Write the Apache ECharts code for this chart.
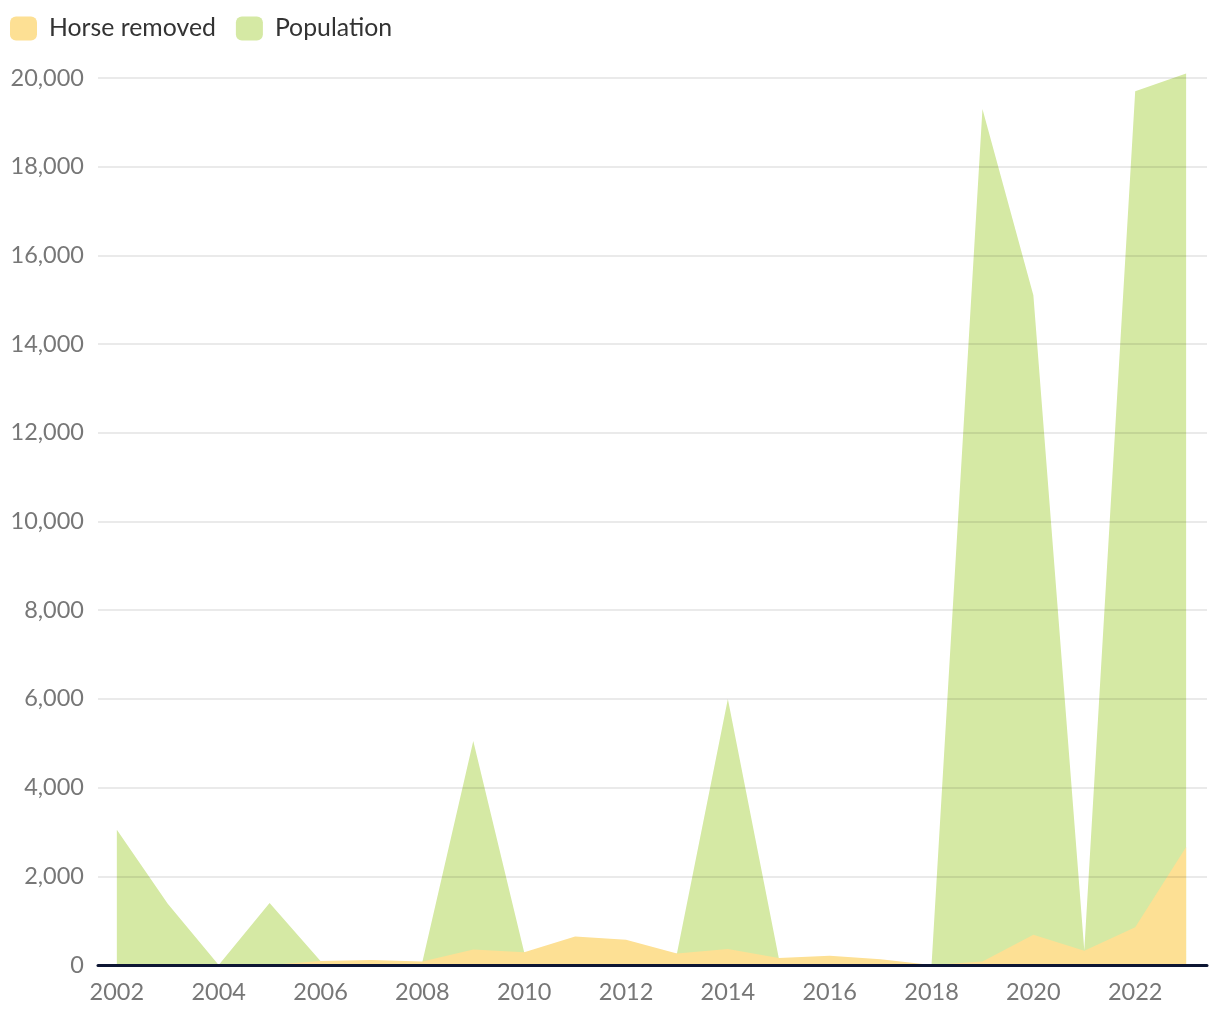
<!DOCTYPE html>
<html>
<head>
<meta charset="utf-8">
<script src="https://cdn.jsdelivr.net/npm/echarts@6/dist/echarts.min.js"></script>
<style>
html,body{margin:0;padding:0;background:#fff;}
#chart{width:1220px;height:1020px;}
</style>
</head>
<body>
<div id="chart"></div>
<script>
const years = [2002,2003,2004,2005,2006,2007,2008,2009,2010,2011,2012,2013,2014,2015,2016,2017,2018,2019,2020,2021,2022,2023];
const horseRemoved = [0,0,0,0,90,110,80,350,290,640,570,260,360,160,210,130,0,80,680,320,850,2660];
const population = [3050,1380,0,1400,90,0,70,5050,290,0,0,260,6000,160,0,0,0,19300,15100,330,19700,20100];
const xTickLabels = [2002,2004,2006,2008,2010,2012,2014,2016,2018,2020,2022];
const seriesNames = ['Horse removed','Population'];

const font = 'Lato';
const chart = echarts.init(document.getElementById('chart'), null, {renderer:'canvas'});
const toPairs = arr => years.map((y,i)=>[y, arr[i]]);

chart.setOption({
  animation:false,
  legend:{
    data:seriesNames,
    left:5, top:11,
    icon:'roundRect',
    itemWidth:27, itemHeight:24, itemGap:20,
    textStyle:{fontFamily:font, fontSize:24.8, color:'#333', padding:[0,0,0,7]}
  },
  grid:{left:98, right:13, top:78, bottom:55, containLabel:false},
  xAxis:{
    type:'value', min:2001.63, max:2023.41,
    z:10,
    axisLine:{show:true, onZero:true, lineStyle:{color:'#0d1633', width:3}},
    axisTick:{show:false},
    splitLine:{show:false},
    axisLabel:{customValues:xTickLabels, formatter:v=>String(v), fontFamily:font, fontSize:23.5, color:'#777', margin:15}
  },
  yAxis:{
    type:'value', min:0, max:20000, interval:2000,
    z:5,
    axisLine:{show:false}, axisTick:{show:false},
    splitLine:{show:true, lineStyle:{color:'rgba(0,0,0,0.11)', width:1.5}},
    axisLabel:{formatter:v=>v.toLocaleString('en-US'), fontFamily:font, fontSize:23.5, color:'#777', margin:14}
  },
  series:[
    {
      name:'Population', type:'line', data:toPairs(population),
      symbol:'none', clip:false, z:2,
      lineStyle:{width:0},
      areaStyle:{color:'#d5e9a4', opacity:1}
    },
    {
      name:'Horse removed', type:'line', data:toPairs(horseRemoved),
      symbol:'none', clip:false, z:3,
      lineStyle:{width:0},
      areaStyle:{color:'#fde094', opacity:1}
    }
  ],
  color:['#d5e9a4','#fde094']
});
</script>
</body>
</html>
